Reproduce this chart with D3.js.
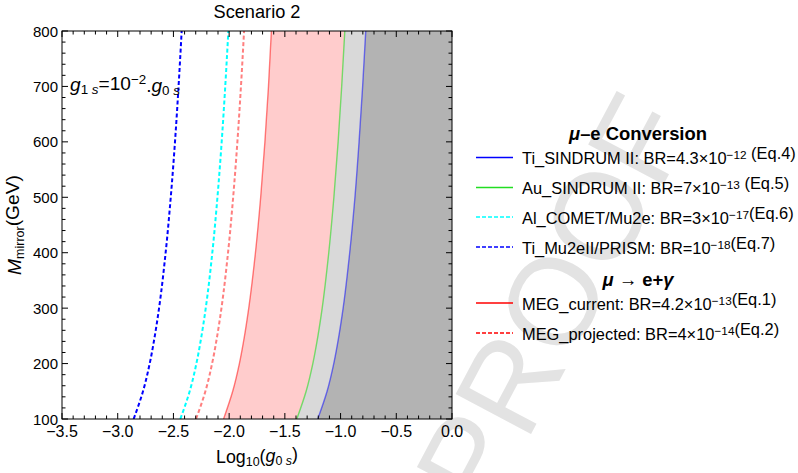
<!DOCTYPE html>
<html><head><meta charset="utf-8">
<script src="https://cdn.jsdelivr.net/npm/d3@7"></script>
<style>body{margin:0;background:#fff}svg{display:block;font-family:"Liberation Sans",Arial,sans-serif}</style>
</head><body><svg id="c" width="798" height="473"></svg>
<script>
// ---- data ----
const masses = [100,150,200,250,300,400,500,600,700,800];
const tiSindrum    = [-1.205,-1.121,-1.061,-1.015,-0.977,-0.918,-0.871,-0.834,-0.802,-0.774];
const auSindrum    = [-1.393,-1.309,-1.249,-1.203,-1.165,-1.106,-1.060,-1.022,-0.990,-0.962];
const alComet      = [-2.438,-2.354,-2.294,-2.248,-2.210,-2.151,-2.105,-2.067,-2.035,-2.007];
const tiMu2e       = [-2.857,-2.773,-2.713,-2.667,-2.629,-2.570,-2.524,-2.486,-2.454,-2.426];
const megCurrent   = [-2.050,-1.968,-1.908,-1.862,-1.824,-1.764,-1.717,-1.679,-1.647,-1.621];
const megProjected = [-2.297,-2.213,-2.153,-2.107,-2.069,-2.010,-1.964,-1.926,-1.894,-1.866];
const xTicks = [-3.5,-3.0,-2.5,-2.0,-1.5,-1.0,-0.5,0.0];
const yTicks = [100,200,300,400,500,600,700,800];

const svg = d3.select("#c");
const x = d3.scaleLinear().domain([-3.5,0]).range([62,452]);
const y = d3.scaleLinear().domain([100,800]).range([419,31]);

// scale a text element's font so that its advance width equals target
function fit(sel, target){
  const n = sel.node();
  const fs = parseFloat(sel.attr("font-size"));
  const w = n.getComputedTextLength();
  const nf = w > 0 ? fs*target/w : fs;
  sel.attr("font-size", nf);
  return nf;
}

// watermark
svg.append("text").attr("transform","translate(562,306) rotate(-62)")
  .attr("text-anchor","middle").attr("dominant-baseline","middle")
  .attr("font-size",124).attr("fill","#e3e3e3").text("PROOF");

svg.append("clipPath").attr("id","clip").append("rect")
  .attr("x",62).attr("y",31).attr("width",390).attr("height",388);
const plot = svg.append("g").attr("clip-path","url(#clip)");
plot.append("rect").attr("x",62).attr("y",31).attr("width",390).attr("height",388).attr("fill","#fff");

const pts = arr => masses.map((m,i)=>[arr[i],m]);
const area = d3.area().y(d=>y(d[1])).x0(d=>x(d[0])).x1(x(0)).curve(d3.curveMonotoneY);
const line = d3.line().x(d=>x(d[0])).y(d=>y(d[1])).curve(d3.curveMonotoneY);

plot.append("path").attr("d",area(pts(megCurrent))).attr("fill","#ffcccc");
plot.append("path").attr("d",area(pts(auSindrum))).attr("fill","#d9d9d9");
plot.append("path").attr("d",area(pts(tiSindrum))).attr("fill","#b3b3b3");

const series = [
  {d:megCurrent, c:"#ff0000", w:1.4, o:0.5, dash:null},
  {d:auSindrum, c:"#00dd00", w:1.4, o:0.5, dash:null},
  {d:tiSindrum, c:"#0000ff", w:1.4, o:0.5, dash:null},
  {d:megProjected, c:"#ff0000", w:2, o:0.5, dash:"4,2.5"},
  {d:alComet, c:"#00ffff", w:2, o:1, dash:"4,2.5"},
  {d:tiMu2e, c:"#0000ff", w:2, o:1, dash:"4,2.5"}
];
series.forEach(s=>{
  plot.append("path").attr("d",line(pts(s.d))).attr("fill","none")
    .attr("stroke",s.c).attr("stroke-width",s.w).attr("stroke-opacity",s.o)
    .attr("stroke-dasharray",s.dash);
});

// frame
svg.append("rect").attr("x",62).attr("y",31).attr("width",390).attr("height",388)
  .attr("fill","none").attr("stroke","#000").attr("stroke-width",1);

// ticks
const tk = svg.append("g").attr("stroke","#000").attr("stroke-width",1);
d3.range(-3.5,0.001,0.1).forEach(v=>{
  const major = Math.abs(v*2-Math.round(v*2))<1e-6;
  const L = major?6:3.5, X = x(v);
  tk.append("line").attr("x1",X).attr("x2",X).attr("y1",419).attr("y2",419-L);
  tk.append("line").attr("x1",X).attr("x2",X).attr("y1",31).attr("y2",31+L);
});
d3.range(100,800.01,20).forEach(v=>{
  const major = v%100===0;
  const L = major?6:3.5, Y = y(v);
  tk.append("line").attr("x1",62).attr("x2",62+L).attr("y1",Y).attr("y2",Y);
  tk.append("line").attr("x1",452).attr("x2",452-L).attr("y1",Y).attr("y2",Y);
});

const fmt = v => (v<0?"\u2212":"") + Math.abs(v).toFixed(1);
svg.append("g").selectAll("text").data(xTicks).join("text")
  .attr("x",d=>x(d)).attr("y",437).attr("text-anchor","middle")
  .attr("font-size",16).text(fmt);
svg.append("g").selectAll("text").data(yTicks).join("text")
  .attr("x",58).attr("y",d=>y(d)+5.5).attr("text-anchor","end")
  .attr("font-size",15).text(d=>d);

// title
const ti = svg.append("text").attr("x",257).attr("y",18).attr("text-anchor","middle")
  .attr("font-size",17).text("Scenario 2");
fit(ti, 87);

// x label
const xl = svg.append("text").attr("x",257).attr("y",463).attr("text-anchor","middle").attr("font-size",18);
xl.append("tspan").text("Log");
xl.append("tspan").attr("font-size","0.7em").attr("dy","0.25em").text("10");
xl.append("tspan").attr("dy","-0.25em").text("(");
xl.append("tspan").attr("font-style","italic").text("g");
xl.append("tspan").attr("font-size","0.7em").attr("dy","0.25em").text("0 ");
xl.append("tspan").attr("font-size","0.7em").attr("font-style","italic").text("s");
xl.append("tspan").attr("dy","-0.25em").text(")");
fit(xl, 82);

// y label
const yl = svg.append("text").attr("transform","translate(21,225) rotate(-90)")
  .attr("text-anchor","middle").attr("font-size",16);
yl.append("tspan").attr("font-style","italic").text("M");
yl.append("tspan").attr("font-size","0.65em").attr("dy","0.25em").text("mirror");
yl.append("tspan").attr("dy","-0.25em").text("(GeV)");
fit(yl, 100);

// annotation
const an = svg.append("text").attr("x",70).attr("y",91).attr("font-size",17.5);
an.append("tspan").attr("font-style","italic").text("g");
an.append("tspan").attr("font-size","0.7em").attr("dy","0.23em").text("1 ");
an.append("tspan").attr("font-size","0.7em").attr("font-style","italic").text("s");
an.append("tspan").attr("dy","-0.23em").text("=10");
an.append("tspan").attr("font-size","0.7em").attr("dy","-0.4em").text("\u22122");
an.append("tspan").attr("dy","0.4em").text(".");
an.append("tspan").attr("font-style","italic").text("g");
an.append("tspan").attr("font-size","0.7em").attr("dy","0.23em").text("0 ");
an.append("tspan").attr("font-size","0.7em").attr("font-style","italic").text("s");
fit(an, 110);

// legend
const lg = svg.append("g");
function heading(yc, parts){
  const t = lg.append("text").attr("x",638).attr("y",yc+6).attr("text-anchor","middle")
    .attr("font-weight","bold").attr("font-size",18);
  parts.forEach(p=>t.append("tspan").attr("font-style",p.i?"italic":null).text(p.t));
  return t;
}
function item(yc, color, dash, parts){
  lg.append("line").attr("x1",476).attr("x2",513).attr("y1",yc).attr("y2",yc)
    .attr("stroke",color).attr("stroke-width",1.7).attr("stroke-dasharray",dash);
  const t = lg.append("text").attr("x",522).attr("y",yc+6.5).attr("font-size",16.5);
  parts.forEach(p=>{
    if(p.sup){ t.append("tspan").attr("font-size","0.72em").attr("dy","-0.42em").text(p.t); t.append("tspan").attr("dy","0.42em").text(""); }
    else t.append("tspan").text(p.t);
  });
  return t;
}
const h1 = heading(134,[{t:"\u03bc",i:true},{t:"\u2013e Conversion"}]);
const items = [
  item(157.5,"#0000ff",null,[{t:"Ti_SINDRUM II: BR=4.3\u00d710"},{t:"\u221212",sup:true},{t:" (Eq.4)"}]),
  item(187.5,"#22dd22",null,[{t:"Au_SINDRUM II: BR=7\u00d710"},{t:"\u221213",sup:true},{t:" (Eq.5)"}]),
  item(217,"#00ffff","4,2",[{t:"Al_COMET/Mu2e: BR=3\u00d710"},{t:"\u221217",sup:true},{t:"(Eq.6)"}]),
  item(247,"#0000ff","4,2",[{t:"Ti_Mu2eII/PRISM: BR=10"},{t:"\u221218",sup:true},{t:"(Eq.7)"}])
];
const h2 = heading(280,[{t:"\u03bc",i:true},{t:" \u2192 e+"},{t:"\u03b3",i:true}]);
items.push(
  item(303,"#ff0000",null,[{t:"MEG_current: BR=4.2\u00d710"},{t:"\u221213",sup:true},{t:"(Eq.1)"}]),
  item(333,"#ff0000","4,2",[{t:"MEG_projected: BR=4\u00d710"},{t:"\u221214",sup:true},{t:"(Eq.2)"}])
);
const hs = fit(h1, 138);
h2.attr("font-size", hs);
const fs = fit(items[0], 274);
items.forEach(t=>t.attr("font-size", fs));
</script></body></html>
